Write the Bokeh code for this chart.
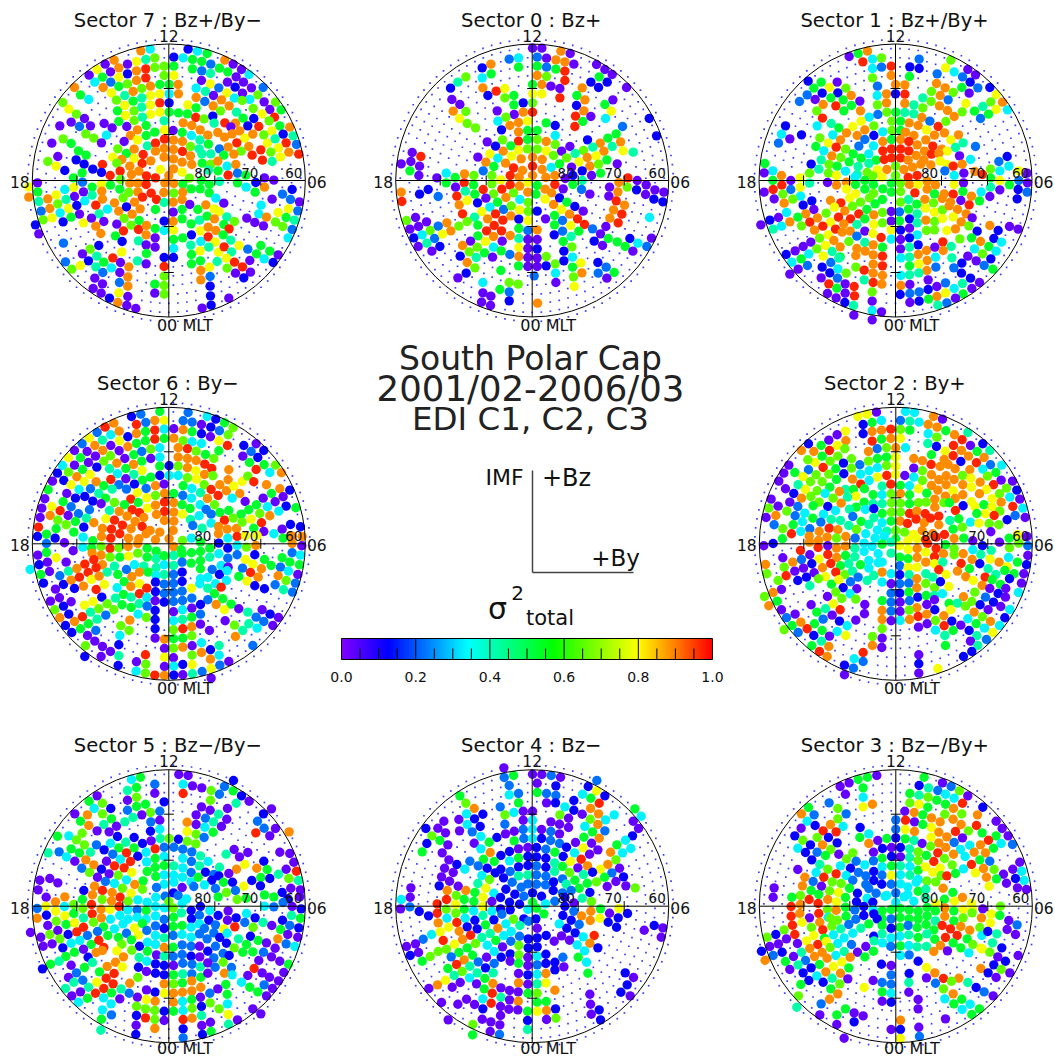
import numpy as np
from bokeh.plotting import figure
from bokeh.models import Range1d, LinearColorMapper, ColumnDataSource
from bokeh.embed import file_html
from bokeh.resources import INLINE
from bokeh.core.properties import value

FONT = "DejaVu Sans"
W, H = 1055, 1059
TITLE_LINES = ["South Polar Cap", "2001/02-2006/03", "EDI C1, C2, C3"]
CBAR_TICKS = [0.0, 0.2, 0.4, 0.6, 0.8, 1.0]
COLOUR_STOPS = [(0.0,(128,0,255)),(0.125,(0,0,255)),(0.34,(0,255,255)),(0.57,(0,255,0)),(0.8,(255,255,0)),(1.0,(255,0,0))]
LEVELS = [0.03,0.12,0.22,0.33,0.42,0.53,0.66,0.79,0.89,0.97]

SECTOR_7 = """421,151,8 449,146,3 563,146,1 591,152,3 620,159,5 520,170,1 548,172,3 576,177,5 604,183,5 631,191,2 408,183,7 436,177,4 463,172,6 341,179,8 673,179,8 698,191,0
314,191,0 381,191,0 491,197,6 520,197,5 576,205,5 604,211,2 657,203,5 682,214,5 723,207,0 290,207,7 355,202,8 330,214,0 408,211,8 436,205,9 463,201,6 266,224,0 306,230,5 381,220,1 491,225,6 520,225,7 630,219,4 707,229,0 746,222,3
283,245,3 331,245,2 355,230,7 408,240,8 436,232,9 381,250,6 355,258,5 478,252,5 506,252,5 450,257,8 424,264,6 222,261,8 240,283,5 265,297,3 308,261,8 333,277,7 373,285,4 398,273,8 533,252,8 603,240,0 629,250,7 681,245,0 729,245,0
506,280,3 534,280,8 478,280,7 450,285,7 424,292,4 398,302,5 348,299,6 587,263,3 615,273,4 655,262,2 704,260,1 753,262,0 788,261,2 639,285,0 679,277,7 726,278,0 772,283,6
187,306,6 205,326,7 228,341,6 252,354,0 212,365,0 237,378,2 270,376,0 311,369,0 335,382,0 178,376,0 379,378,0 351,331,5 401,331,6 424,320,4 450,313,7 478,307,9 506,307,1 373,315,7 562,313,7 587,291,8 613,303,2 663,298,8 702,293,3 748,297,3 725,300,6 791,304,0 825,305,6
506,335,5 478,335,7 450,342,7 426,350,4 401,360,6 355,363,5 375,345,7 534,337,5 561,340,5 587,322,5 638,316,8 660,331,6 686,316,8 708,335,4 758,324,6 808,327,0 842,328,5
491,361,4 548,367,8 586,351,9 611,355,6 637,347,1 673,367,9 705,368,8 728,353,5 760,354,1 785,340,7 822,350,9 806,361,6
518,390,0 574,375,8 599,388,8 641,368,4 691,379,0 718,391,8 742,376,1 775,378,9 838,376,5 868,380,8 437,375,5 411,388,8 492,388,7
390,405,8 411,418,7 437,405,5 463,395,5 545,396,5 573,405,3 622,404,8 652,396,8 672,410,8 695,400,8 733,413,7 757,401,8 790,403,6 814,391,7 848,401,1 878,406,4
154,428,0 188,415,6 212,429,5 256,400,6 280,413,6 318,404,3 303,427,0 371,423,0 492,416,9 519,419,8 546,423,8 598,418,4 624,431,5 709,427,9 801,428,7 824,415,4 857,427,9 888,432,2
234,451,5 352,445,6 378,459,5 401,446,8 441,436,4 465,428,9 491,444,8 519,447,8 570,438,6 596,445,4 657,445,2 683,440,8 722,452,6 745,438,8 781,448,9 834,442,7 865,455,8
172,468,0 227,478,1 257,464,5 337,470,7 364,477,8 401,474,7 428,462,9 465,452,8 491,470,8 519,475,8 546,453,9 570,466,8 604,460,4 631,460,4 670,464,5 700,461,8 755,464,9 811,455,6 895,461,9
142,483,6 167,497,7 193,510,1 251,491,1 277,506,1 306,492,9 349,488,6 388,497,8 425,489,9 451,481,8 519,505,8 545,485,8 574,492,8 605,488,5 631,491,6 652,482,8 680,497,3 706,492,8 786,479,9 815,483,4 840,469,7
219,532,5 245,517,5 303,516,1 329,525,9 359,512,9 393,522,8 415,512,8 438,526,9 465,532,9 480,507,7 505,525,8 545,515,7 567,533,6 624,509,4 653,511,5 683,524,9 711,518,2 736,524,5 792,532,0 820,539,0
111,547,0 246,545,2 275,560,5 303,550,7 330,554,5 360,537,6 388,548,8 412,548,8 437,552,9 493,547,8 520,549,8 547,550,5 602,540,5 627,552,5 657,543,4 711,547,5 737,560,3 766,546,1 792,560,8
85,559,7 112,574,5 142,595,8 167,583,7 193,567,3 220,561,7 249,574,0 275,584,4 304,572,8 358,566,5 385,576,6 412,574,8 452,578,9 490,576,8 520,578,6 547,575,8 572,565,5 599,565,5 626,577,5 646,593,3 764,575,5 875,567,1
85,590,8 115,603,4 222,588,0 253,601,3 286,614,9 306,596,8 342,607,8 368,592,6 402,605,8 426,590,9 468,597,9 491,606,4 518,605,8 545,597,8 670,608,0 846,581,2 870,597,2 815,596,0 897,604,0
122,632,2 148,624,8 172,610,6 197,597,4 204,624,7 229,615,1 237,641,0 179,637,3 296,640,4 321,626,3 355,632,8 378,619,1 419,625,8 465,627,5 518,635,0 545,627,5 568,612,0 592,627,5 616,613,8 641,625,7 656,633,7 782,614,3 864,625,7 892,631,2 833,636,7 775,640,3
128,658,6 155,652,7 188,664,1 212,650,5 249,667,7 273,653,0 310,663,0 371,654,6 395,641,8 416,660,5 349,671,0 491,662,1 518,663,8 545,655,5 572,670,5 597,659,4 620,647,5 642,655,8 679,649,4 702,663,6 739,653,0 763,666,0 798,650,8 825,664,6 857,651,5 882,659,4
105,673,1 286,677,8 369,691,9 392,674,6 414,687,9 438,675,8 464,684,5 491,690,3 519,689,7 573,703,1 599,691,7 623,680,8 646,690,8 670,672,5 686,685,9 789,676,0 847,678,6 875,687,2
115,700,0 301,699,8 345,706,5 437,703,8 519,717,5 547,712,5 601,723,3 623,709,9 644,725,7 668,703,5 691,719,4 863,712,3
189,728,2 365,723,1 414,721,4 464,712,0 437,733,0 464,740,0 295,735,1 571,734,4 654,755,7 716,735,7
269,746,6 246,760,0 289,767,4 364,754,7 519,744,3 599,751,7 625,740,4 671,739,9 693,754,4 742,746,2 768,760,5 781,735,5 808,752,5 833,763,0
195,784,2 264,781,1 310,785,5 337,772,9 360,786,0 411,781,4 438,759,5 491,771,1 519,771,1 573,762,5 600,781,5 650,783,4 678,773,7 702,785,9 748,780,0 791,775,3 818,786,1 726,799,9
214,806,6 240,795,7 286,799,4 333,802,3 385,799,8 437,790,0 491,798,9 573,790,5 627,800,7 601,810,8 680,803,6 750,815,0 705,818,0
307,816,2 358,816,0 491,827,6 382,829,8 283,833,0 601,838,8 629,828,2 730,832,1
306,850,0 278,864,0 357,846,2 382,857,8 463,851,5 491,855,6 629,857,1
302,878,0 327,893,1 355,877,7 382,888,0 463,878,0 491,881,6 630,886,1 685,893,0
352,906,8 379,915,0 406,924,0 632,914,1 605,923,0"""

SECTOR_0 = """516,143,0 544,143,0 601,152,8 629,159,0 530,170,2 558,173,0 586,178,8 613,184,8 640,191,0 446,176,2 474,172,3 391,191,8 474,200,5 530,197,5 558,200,2 586,206,5 613,212,9 708,192,0 733,207,0 365,202,1 392,220,5 365,232,3 316,229,6 292,245,4 270,263,1 530,225,8 558,228,6 613,240,9 716,229,5 755,222,0 691,245,1 740,245,1 516,252,5 544,252,8 571,257,0 598,264,0 665,262,8 714,261,1 798,261,0 367,262,8 407,272,9 433,264,7 382,285,1 516,280,7 544,280,7 433,292,6 460,285,5 598,292,9 649,285,5 673,298,8 757,298,0 274,297,0 298,312,0 460,313,5 488,307,1 516,307,6 648,315,1 733,312,5 410,331,0 316,333,6 278,332,8 461,342,0 488,335,8 516,335,9 670,331,8 752,332,7 297,354,7 436,350,6 645,347,9 691,348,0 866,354,1 320,369,6 412,362,3 474,366,8 501,362,7 735,354,3 557,367,5 584,375,1 667,363,5 345,382,6 448,375,8 423,388,1 474,394,8 501,390,5 530,390,5 643,378,9 786,378,2 584,405,3 888,406,1 767,400,5 380,424,0 426,418,6 474,422,9 501,417,5 530,417,6 557,423,8 584,432,6 681,418,1 742,413,5 405,437,1 451,436,5 719,428,8 780,424,8 755,438,4 697,440,4 628,438,0 603,452,0 155,456,0 181,468,9 352,470,0 388,460,7 428,452,8 474,449,7 501,445,6 530,446,6 557,451,7 730,452,8 669,450,6 644,459,4 788,451,7 818,455,4 151,483,0 122,490,0 177,497,0 412,473,3 453,467,7 482,475,8 516,470,8 545,477,8 579,465,6 618,472,6 680,471,8 707,466,7 739,478,5 376,485,8 435,488,8 400,498,5 148,511,5 516,497,9 545,507,8 572,501,3 597,490,5 655,484,7 688,497,8 714,491,6 770,490,0 175,525,0 368,511,2 459,502,9 486,510,8 516,525,8 633,500,0 665,511,1 693,525,0 720,518,5 229,532,0 257,518,3 284,531,5 312,520,8 340,525,6 394,525,6 449,525,9 421,538,7 476,530,8 556,531,8 583,525,8 614,534,0 637,525,1 775,546,8 802,532,9 257,547,5 285,560,0 311,547,9 339,553,5 394,550,6 449,553,9 502,546,7 530,555,5 583,552,9 637,552,5 665,540,4 830,540,0 857,553,0 747,560,0 800,560,6
122,575,8 203,567,1 177,581,1 233,588,2 289,587,9 314,572,4 343,581,5 368,567,9 399,580,6 424,566,9 477,557,8 459,577,6 502,575,8 526,581,5 554,566,8 573,577,8 608,565,0 663,567,2 772,574,8 828,568,1 883,568,0 910,575,0 855,582,0 124,603,9 296,613,8 320,600,7 351,607,1 376,593,0 411,605,5 436,591,8 478,597,3 503,606,6 554,596,7 579,612,8 597,592,1 619,605,5 643,618,1 688,581,0 745,587,0 767,601,9 880,596,1 907,604,1
306,640,9 364,633,7 388,620,3 429,627,2 452,616,6 477,628,7 503,633,6 530,632,1 555,655,0 582,645,5 603,627,7 627,641,8 668,632,0 759,628,8 792,614,8 405,640,9 342,650,4 138,660,6 165,651,0 198,664,0 259,667,8 320,663,6 381,655,8 427,659,9 451,646,8 475,656,1 502,660,7 582,673,5 606,660,2 651,655,9 672,672,9 748,653,8 784,641,9 867,651,3 773,667,9
148,686,0 174,678,0 233,677,2 209,690,6 271,691,8 295,677,6 352,674,5 378,691,9 401,675,9 423,691,9 475,684,5 502,690,2 530,688,8 630,675,7 606,692,2 581,703,1 655,692,5 696,685,2 736,678,0 720,700,0 160,712,1 185,703,3 222,714,2 246,701,7 352,706,5 399,708,8 425,722,0 449,705,8 475,714,4 502,717,0 530,717,0 608,723,5 632,708,4 701,722,1 743,714,5 770,724,5 808,714,1 873,713,0 199,728,4 173,738,0 238,738,1 330,722,0 375,723,7 306,735,8 350,740,6 399,740,3 422,751,5 448,762,2 475,741,7 502,744,0 530,745,1 634,739,6 726,735,0 794,738,5 832,728,3 859,738,2 214,752,0 326,754,6 372,757,5 299,767,1 347,771,4 396,770,0 475,768,8 502,771,0 530,772,0 557,768,6 610,752,1 636,770,3 817,752,0
320,786,8 343,802,6 474,796,5 502,798,0 530,798,0 557,796,1 584,790,6 610,781,1 661,787,7 712,786,1 737,800,2 421,810,5 636,800,5 317,818,1 292,832,0 521,826,2 585,818,3 664,817,8 713,818,2 761,816,5 639,829,6 739,833,0 367,846,3 446,846,6 473,851,6 586,846,0 641,858,7 418,867,5 446,874,2 367,877,0 391,887,0 446,901,1 363,905,0 390,915,0 531,908,8"""

SECTOR_1 = """371,168,0 398,159,5 426,152,8 412,184,9 441,176,3 468,172,6 441,204,3 468,200,2 497,197,9 497,225,8 441,232,6 581,176,2 553,199,1 581,204,1 676,179,6 660,202,7 635,220,2 686,214,3 727,207,0 711,229,2 750,223,0 552,228,5 248,242,1 287,245,5 335,245,0 265,263,5 312,261,7 361,263,6 245,283,2 222,303,2 290,278,1 337,277,1 269,297,0 316,292,5 377,285,8 353,298,5 403,302,0 293,312,8 331,316,9 378,315,5 355,331,5 274,331,6 456,257,2 510,252,8 538,253,8 455,285,3 483,280,8 510,280,1 538,281,9 483,307,8 456,313,6 538,309,8 565,313,4 592,292,4 618,273,6 633,249,8 659,262,8 644,285,8 683,276,6 709,261,5 734,245,1 757,262,2 793,261,1 731,278,0 812,282,7 796,304,6 831,305,8 617,303,6 668,298,2 642,316,8 721,309,7 772,318,4 812,327,7 846,328,3 592,322,6 666,330,8 405,331,8 484,335,6 511,335,5 538,336,4 565,340,4 710,334,6 747,332,5 789,341,5 765,354,2 291,353,9 431,350,3 457,342,2 407,362,7 317,369,4 499,362,6 525,362,5 551,367,8 589,351,8 613,362,2 638,378,9 661,363,6 686,348,8 275,376,3 180,376,1 340,382,5 382,378,7 418,388,8 472,394,3 445,376,6 499,390,6 525,390,5 578,375,8 603,388,7 168,401,3 228,403,1 193,415,0 283,412,6 322,403,3 363,397,8 395,405,8 445,405,1 540,395,8 565,405,8 627,404,8 657,397,8 699,403,8 159,428,2 308,428,7 345,418,8 418,417,2 472,423,8 498,417,5 525,417,8 550,423,9 575,433,8 601,418,8 676,418,7 713,427,4 271,438,5 332,440,9 360,446,6 400,437,2 444,436,3 498,445,9 525,445,9 550,451,9 622,437,9 649,446,8 690,441,4 750,438,2 295,451,3 383,460,5 472,451,9 597,452,8 665,452,7 319,466,8 346,471,6 407,473,5 430,460,3 498,472,9 525,472,9 572,465,8 618,461,9 640,459,8 702,466,0 287,478,4 257,491,1 371,484,5 452,479,5 476,477,9 548,479,8 595,478,8 644,482,7 735,477,3 845,468,1 820,483,2 118,489,5 311,492,6 335,497,5 398,498,4 430,489,4 510,497,6 535,507,8 561,500,8 586,491,8 616,493,8 665,492,7 710,491,8 683,497,9 142,511,3 116,517,0 280,506,4 252,518,6 309,518,6 360,512,3 395,522,4 425,516,6 456,508,7 484,507,8 510,525,6 548,531,9 575,525,9 658,511,2 715,518,0 748,513,8 771,522,9 795,506,6 823,511,3 850,497,3 168,525,8 196,540,0 224,532,7 388,530,3 333,525,7 442,526,6 470,530,7 686,525,3 795,532,5 905,518,0 880,511,7 142,540,5 252,548,4 169,554,9 196,567,2 224,561,7 306,546,0 333,554,8 363,545,8 390,552,5 418,540,5 444,552,5 498,548,5 525,548,6 552,552,8 578,552,7 605,542,8 630,553,8 686,552,7 714,547,0 823,540,7 852,553,5 880,540,2 906,547,0
116,575,0 143,567,9 172,581,6 146,595,0 225,587,3 202,596,6 363,566,7 390,580,7 418,566,5 444,579,6 472,565,5 498,575,5 525,573,6 568,577,9 605,566,8 627,580,5 656,580,8 683,581,9 712,573,5 738,587,8 767,574,3 795,560,4 823,568,0 878,567,1 905,575,2 793,588,0 875,595,1 176,608,8 233,614,1 259,601,1 315,600,8 346,607,9 373,592,7 405,605,6 432,592,6
265,627,0 183,636,3 241,640,8 302,638,6 327,620,7 358,631,8 381,617,6 400,640,9 424,627,5 449,610,5 471,597,5 497,633,0 525,605,6 549,597,4 574,611,5 598,597,8 624,607,6 650,594,8 675,605,8 706,600,0 731,613,9 762,601,5
133,659,1 159,651,0 217,650,5 106,673,0 143,686,4 168,677,3 193,664,8 228,676,6 253,665,9 276,652,8 315,665,7 339,650,9 375,655,9 418,655,5 445,643,8 471,636,6 497,662,0 522,634,2 549,626,5 575,640,4 600,623,7 627,635,7 651,628,6 671,616,8 696,627,8 722,640,8 740,652,0
267,689,8 292,677,9 330,686,9 355,670,8 394,672,4 418,692,0 445,672,7 471,667,6 497,688,7 522,661,5 552,655,1 575,667,4 601,659,8 627,663,6 651,654,7 683,649,7 707,664,8 730,676,6 793,675,8 852,678,0 878,686,0 818,690,1
282,713,6 308,703,7 350,695,8 374,692,8 394,707,2 442,699,7 467,711,9 497,716,3 525,689,1 552,683,0 575,703,3 603,690,6 627,688,6 664,690,7 690,685,8 755,692,1 805,714,1
256,725,0 233,738,0 274,745,6 300,735,7 325,720,8 344,739,8 370,723,6 394,744,8 418,726,4 443,733,8 471,740,5 525,717,0 552,712,1 578,733,1 603,750,8 628,740,0 652,724,9 677,738,4 703,715,6 738,712,5 765,723,8 790,738,5 828,725,3
209,751,0 182,762,1 250,760,3 293,767,7 320,753,4 344,769,5 391,765,8 419,752,8 443,763,8 471,767,9 525,745,0 552,740,4 578,762,8 605,780,8 630,770,3 653,750,8 679,772,4 727,767,0 747,745,3 771,760,6 812,752,3 752,781,0 796,775,1
199,785,3 227,775,5 246,795,2 290,800,1 316,786,2 340,773,4 391,800,6 416,809,9 443,791,8 471,796,9 526,772,3 552,770,4 552,796,5 580,790,7 604,810,8 631,800,2 685,802,2 709,788,1 776,795,2 802,806,5
218,806,0 193,821,0 313,817,1 337,805,3 362,818,6 443,818,8 471,825,8 526,825,3 552,823,4 580,817,4 708,818,1 287,832,0 336,833,2 416,838,4 443,846,9 469,851,8 359,850,0 386,858,9 310,850,9 334,863,5 526,855,8 553,852,0 608,838,0 660,847,2 634,858,0 711,849,4 735,833,1 762,846,0
306,879,0 332,892,0 359,878,0 387,886,9 440,874,6 524,882,1 553,879,2 581,874,2 608,867,1 634,888,8 660,877,7 686,864,3 739,864,0 713,880,5 358,906,1 384,915,4 440,902,0 553,906,0 581,902,1 609,896,5 637,914,4 664,907,2 690,893,0 440,930,3 468,934,0 385,944,0 440,958,0"""

SECTOR_6 = """478,138,5 563,141,2 620,153,3 646,161,1 421,146,2 393,153,1 548,166,2 575,170,2 603,177,0 631,185,1 672,172,5 698,187,6 463,165,8 491,165,7 436,171,2 408,177,9 340,173,8 314,185,9 520,190,0 548,193,8 575,199,5 603,205,1 657,196,2 683,208,6 290,201,2 331,208,3 356,197,8 408,204,8 435,198,5 463,194,9 491,191,3 266,218,7 382,214,1 520,218,8 630,214,0 655,226,7 681,240,9 306,224,4 245,235,2 357,226,7 408,234,5 435,226,5 463,221,9 491,219,5 283,240,8 331,240,0 382,244,8 548,226,6 575,229,3 603,234,3 730,240,1 767,235,0 222,255,0 260,258,0 307,255,8 356,256,0 400,268,5 424,258,2 451,251,6 478,247,3 533,247,8 561,250,9 587,257,6 615,267,5 655,256,5 752,258,2 790,255,1 204,277,7 240,277,5 285,272,0 330,271,6 373,279,0 424,287,5 451,279,0 478,275,3 533,275,8 561,279,8 587,285,8 640,279,6 727,272,0 772,276,1 186,300,3 222,299,0 264,291,0 310,287,6 349,293,8 399,297,8 478,302,5 506,301,1 533,302,6 561,307,8 613,296,9 634,309,9 747,291,5 791,298,5 825,299,6 171,323,1 204,320,6 246,312,5 289,305,1 327,310,4 376,309,5 425,315,7 451,335,5 478,330,1 506,330,3 533,330,3 586,316,7 612,327,8 685,313,8 767,312,9 808,321,3 843,322,8 156,347,0 190,345,1 229,334,8 269,327,7 351,325,3 400,327,4 426,344,5 376,340,0 561,337,6 588,341,7 637,331,6 658,358,8 683,343,8 725,348,7 742,332,6 760,349,9 212,358,7 251,349,7 287,349,8 331,342,9 355,358,2 402,356,1 465,361,8 491,356,0 236,372,3 143,373,5 270,370,2 310,361,5 335,371,4 378,371,2 437,369,2 548,361,5 574,369,3 611,358,6 632,372,9 678,376,8 700,362,7 798,358,8 838,370,8 868,374,1 199,384,0 295,384,4 225,398,1 253,393,1 411,382,7 465,390,6 492,384,8 520,384,5 547,390,2 573,398,3 600,382,4 653,390,9 718,384,8 813,384,5 133,400,0 277,407,1 315,398,5 342,411,6 391,401,9 439,397,7 413,411,5 492,410,9 520,412,8 621,399,8 695,398,3 788,398,0 848,394,0 824,409,0 154,423,7 124,428,0 188,409,5 212,424,2 302,415,0 372,418,5 395,433,9 441,428,7 465,419,8 492,438,9 520,440,8 545,418,5 569,429,5 599,418,3 642,418,6 734,408,0 768,418,5 801,424,3 857,422,1 886,427,5 149,450,8 119,456,0 179,436,9 203,450,0 234,445,2 267,433,2 327,435,4 356,438,8 380,452,8 417,442,9 468,447,8 617,432,2 658,441,5 685,435,5 745,433,5 722,446,5 778,444,6 808,451,8 835,437,3 172,464,6 225,468,5 258,458,4 316,460,7 342,464,9 404,468,8 430,456,8 492,465,8 520,467,8 546,446,7 570,462,4 596,451,3 632,446,2 672,464,9 698,458,6 752,461,7 783,472,9 197,478,6 114,485,9 220,500,5 250,485,1 280,472,8 306,489,8 333,491,9 366,479,9 392,490,8 425,483,9 449,495,8 478,500,8 518,495,8 577,480,2 605,488,4 632,473,3 654,483,8 680,491,8 708,489,8 725,470,6 760,488,5 790,498,0 845,491,0 870,477,1 900,484,1 138,506,5 111,513,1 167,490,5 192,532,0 164,518,1 248,515,3 277,526,5 303,513,8 331,518,9 358,505,9 384,518,8 415,520,8 437,505,8 465,523,8 506,520,8 546,525,6 573,518,3 600,530,5 654,505,8 682,518,3 710,513,9 735,510,7 770,510,7 820,505,3 848,518,5 875,512,8 905,513,8 138,534,2 247,545,3 273,548,5 302,543,6 329,549,9 355,547,6 383,543,8 412,534,8 440,548,5 467,557,5 520,544,8 542,553,5 600,558,5 628,548,5 655,533,1 682,548,1 710,540,3 738,545,6 766,540,8 875,534,8 904,541,0
112,569,0 138,561,5 218,556,0 141,590,0 167,577,7 275,563,8 302,569,8 329,575,6 358,575,5 384,572,7 412,563,6 440,575,5 467,580,4 491,571,5 519,570,4 545,565,5 573,562,5 600,586,5 628,575,4 655,565,3 682,578,2 710,568,2 735,582,7 763,568,1 792,582,5 845,577,5 875,562,2 900,569,3 197,590,0 116,598,1 89,612,3 147,618,0 121,627,5 253,596,9 280,583,9 306,598,8 342,602,4 378,612,2 402,598,3 430,602,4 467,607,4 491,598,3 519,600,4 545,590,2 572,593,5 600,610,5 635,612,2 662,600,3 683,605,0 726,608,2 757,596,7 783,610,8 812,600,5 840,605,2 868,590,5 897,598,5 178,631,2 204,617,4 229,609,8 263,621,9 287,607,9 320,620,4 352,627,5 394,634,8 417,620,8 443,620,5 467,630,3 491,627,4 519,627,2 545,620,1 600,640,3 622,636,3 657,627,1 680,616,3 715,633,5 750,621,9 773,635,8 833,631,8 864,617,3 892,627,0 129,653,1 165,671,0 189,657,1 212,644,8 237,635,9 273,642,7 296,632,8 350,667,3 371,649,5 391,663,8 417,655,7 439,668,9 465,650,1 491,656,2 519,654,2 545,648,1 573,668,7 598,655,3 622,668,4 645,655,3 678,645,3 740,647,7 763,661,1 792,670,1 824,658,2 857,645,6 885,653,2 222,669,1 249,662,8 287,672,9 312,657,7 369,687,5 392,695,4 417,685,9 439,696,3 465,679,1 491,684,2 519,681,2 545,677,2 642,685,5 662,665,9 849,673,4 876,680,2 177,697,0 150,707,0 304,695,1 345,698,4 416,715,4 440,722,2 464,706,0 491,710,1 519,708,2 546,705,2 574,698,2 622,703,2 667,700,5 189,722,1 212,709,0 252,719,7 278,708,7 320,715,6 365,718,5 392,726,5 600,717,1 574,728,0 647,717,8 692,716,5 163,733,6 205,746,1 270,740,4 295,730,6 340,733,6 413,746,3 464,735,1 519,739,0 546,733,3 672,733,7 715,730,0 742,740,4 785,733,0 178,757,8 246,754,9 290,761,4 316,749,2 388,764,8 438,756,6 464,762,1 574,755,5 600,746,2 809,746,1 767,755,2 834,756,0 195,780,1 222,768,8 264,775,5 361,781,6 519,766,3 546,762,4 574,784,8 600,776,0 674,766,0 745,775,4 790,768,2 817,780,0 240,790,5 214,801,1 286,795,2 386,795,6 464,790,1 519,793,6 547,790,9 627,795,0 702,779,6 770,788,3 727,795,4 261,810,0 358,810,3 464,818,0 492,821,8 519,820,5 547,818,5 574,811,6 705,813,8 283,827,0 255,841,6 306,843,0 355,838,1 492,849,0 519,848,6 547,845,8 575,841,0 603,832,3 656,840,4 757,840,2 330,858,0 435,868,9 302,873,0 253,873,1 355,871,4 492,875,7 519,877,0 575,869,6 603,861,8 630,853,1 656,869,3 408,889,0 436,896,6 353,900,1 492,903,0 520,902,3 547,897,1 575,897,7 630,881,8 658,899,2 685,888,0 407,917,3 435,923,6 463,929,9 492,930,8 520,929,1 547,928,0 576,925,4 605,918,2 632,909,7 632,938,0"""

SECTOR_2 = """453,140,0 425,146,7 397,153,7 540,138,3 567,141,3 624,153,8 651,161,0 468,165,3 440,171,5 413,177,1 525,165,2 553,167,4 581,170,3 608,177,8 635,185,8 661,196,5 360,197,7 496,191,9 468,194,8 440,198,8 413,205,1 525,192,6 553,194,5 687,208,8 727,201,4 335,208,0 310,224,0 361,226,8 440,227,9 468,221,5 496,219,8 525,219,7 608,205,3 634,215,6 710,223,9 249,235,1 287,240,5 335,240,7 455,250,2 483,247,6 511,247,8 540,247,3 607,234,4 633,243,1 684,240,9 659,257,7 735,240,0 772,235,1 793,255,4 228,255,8 265,258,8 312,255,9 358,250,6 429,258,8 456,279,5 483,275,5 290,272,5 337,272,6 618,268,5 708,255,8 755,258,5 683,271,9 378,280,6 429,287,6 511,275,7 565,279,8 591,286,8 617,297,9 656,282,8 706,288,1 729,272,8 776,276,8 269,291,7 190,299,0 247,283,6 314,287,6 354,293,1 403,298,2 456,307,3 483,300,6 511,302,7 565,308,0 644,303,8 668,297,8 689,310,8 753,292,9 795,298,2 829,299,3 175,323,0 208,321,5 249,313,2 293,306,9 331,310,5 378,308,6 405,326,3 431,316,3 484,330,9 511,327,7 538,330,0 565,335,3 591,316,6 618,328,8 662,331,8 733,313,8 711,330,6 772,311,3 811,321,5 160,347,0 233,334,7 355,325,1 272,328,6 310,326,6 381,341,8 456,335,7 591,345,6 640,343,8 686,342,8 736,338,7 786,332,6 827,344,0 861,347,0 218,358,4 255,349,6 290,349,6 333,342,5 406,356,9 431,345,3 470,362,4 496,356,9 525,360,5 552,361,3 618,360,8 662,358,8 712,358,8 764,350,8 804,358,9 180,370,0 240,372,7 313,365,5 360,372,4 384,372,5 417,370,5 579,370,7 637,374,8 683,376,7 738,365,7 783,372,7 843,368,6 874,374,1 205,384,1 275,376,6 299,384,3 342,378,8 391,392,7 443,388,5 470,388,3 497,385,6 525,385,8 552,388,5 604,383,5 660,392,8 712,388,8 762,385,8 822,385,6 137,401,0 228,398,8 256,393,6 323,398,6 366,395,4 416,410,5 498,412,6 525,413,6 552,415,5 579,412,6 628,401,8 689,399,8 738,409,7 800,400,7 853,395,3 883,401,0 193,410,0 281,410,6 347,413,8 443,415,4 470,415,4 602,410,6 655,412,6 775,418,5 827,410,8 130,428,6 158,422,0 217,423,2 263,421,5 307,423,1 392,425,5 420,432,3 445,430,1 498,440,6 525,440,6 552,444,9 628,425,8 672,412,5 713,421,1 800,424,7 862,423,9 892,428,3 184,437,6 238,443,3 330,436,3 372,431,4 470,444,5 497,467,5 524,467,8 574,437,8 599,445,9 690,435,9 748,423,7 780,445,7 823,437,6 122,456,0 151,450,8 209,451,2 262,458,5 294,446,3 345,465,4 382,453,2 445,457,4 470,472,3 546,474,9 572,461,9 596,472,8 615,458,9 640,452,9 673,465,4 700,460,5 754,444,5 735,470,3 806,450,9 845,463,1 869,450,2 899,456,0 172,490,6 146,478,2 203,478,5 231,469,3 286,470,2 317,462,4 370,480,4 407,468,5 430,477,4 456,494,3 484,497,4 511,495,6 640,478,8 683,491,5 711,485,6 760,473,7 791,474,6 820,478,6 226,498,3 198,505,9 171,520,5 253,490,2 281,498,8 311,488,9 337,493,8 393,492,6 421,505,3 511,520,5 537,500,6 564,507,7 590,495,8 622,505,8 657,507,9 686,519,8 796,499,0 251,512,8 279,525,8 305,515,8 333,518,6 361,513,8 389,518,2 449,518,3 476,513,3 575,520,7 600,522,9 632,515,9 715,518,5 742,526,0 822,530,0 851,518,5 876,508,7 905,513,0 143,534,1 115,541,0 252,530,8 278,546,9 307,541,0 333,548,8 360,542,8 388,548,4 416,533,3 440,543,3 470,536,5 497,530,4 522,541,7 547,526,7 548,552,7 575,549,8 606,534,9 632,549,9 660,538,5 686,550,6 742,553,3 771,541,1 797,555,4 852,547,6 880,533,6 907,541,2
225,555,9 253,568,0 172,577,0 280,581,7 307,567,9 334,576,8 360,570,5 388,574,4 416,558,3 430,585,3 458,565,3 470,590,3 497,563,4 523,575,5 548,580,5 575,576,8 601,560,7 627,574,9 654,565,8 686,568,6 713,565,8 740,582,8 766,567,4 794,581,7 821,590,8 849,576,3 876,590,5 907,570,0 120,597,8 202,590,8 228,582,2 259,595,1 291,607,8 316,594,9 345,601,5 370,594,4 405,598,5 430,608,3 458,592,3 523,601,2 548,606,7 574,605,7 601,590,8 627,595,7 652,590,4 707,594,9 732,610,5 763,595,1 788,610,4 845,604,7 903,598,1 124,625,6 176,605,6 208,617,0 234,608,0 266,622,0 182,631,9 300,634,7 331,620,9 358,627,6 381,617,4 398,635,2 425,645,4 445,630,4 470,620,8 497,625,3 523,628,1 551,628,4 574,640,8 601,625,4 622,635,4 640,613,9 662,627,7 696,617,8 721,634,8 779,635,9 811,627,4 838,615,5 866,625,5 895,625,0 158,645,6 217,645,1 243,635,1 279,640,6 318,656,5 340,643,7 375,649,2 470,650,3 497,655,0 523,655,2 550,653,2 574,667,8 601,654,6 627,667,6 645,649,1 670,663,7 743,645,7 770,660,8 800,643,5 825,657,5 852,640,1 888,653,0 168,672,0 253,661,4 353,667,1 331,680,6 394,670,0 497,683,2 523,683,1 550,680,5 577,695,1 602,690,5 627,690,4 651,685,3 714,694,8 748,680,6 793,669,0 818,684,1 841,669,0 879,681,3 143,681,8 117,693,6 306,693,0 374,685,3 349,699,6 155,707,5 130,721,8 323,715,7 391,701,6 418,717,0 470,706,5 497,710,2 524,710,0 552,706,2 574,727,8 604,717,0 627,703,0 671,714,5 696,713,4 739,708,6 764,718,1 780,695,2 804,710,1 840,695,0 168,733,0 257,718,0 300,730,4 344,733,9 417,745,0 470,735,8 497,737,2 524,738,0 551,734,6 578,753,9 604,746,8 628,733,1 676,733,7 720,722,6 746,740,8 788,733,0 826,723,0 853,732,3 183,757,2 209,746,0 274,740,5 320,749,0 391,764,0 470,762,8 497,766,0 524,765,3 552,762,8 579,785,0 605,775,0 630,765,6 655,751,8 679,767,1 706,779,0 727,760,3 771,754,6 838,757,1 200,780,5 226,770,8 267,775,5 293,761,2 342,767,1 365,781,3 335,798,3 245,790,9 176,793,6 218,801,2 290,795,5 470,790,6 630,794,3 656,781,9 683,795,5 731,795,1 752,775,5 795,768,8 822,780,3 777,788,3 265,810,1 312,812,0 361,810,7 441,813,6 470,818,0 658,810,4 754,811,4 802,801,7 288,827,4 735,827,0 783,822,2 259,841,5 310,843,8 441,840,8 469,846,0 660,840,5 757,840,4 739,858,1 282,858,9 413,861,9 580,868,0 714,873,1 305,873,8 386,880,3 413,888,2 580,895,1 357,899,1 384,908,2 580,923,0 637,909,7 357,928,0"""

SECTOR_5 = """535,147,0 563,150,0 420,155,5 393,162,3 463,176,2 548,176,3 576,181,0 604,187,0 699,165,1 672,183,2 632,195,6 408,186,5 381,195,4 463,203,0 548,204,9 657,206,2 698,196,5 723,211,1 746,227,0 290,211,0 408,215,6 381,224,0 491,229,1 630,224,6 707,233,4 266,227,5 306,233,6 435,236,5 331,249,1 281,249,3 408,243,5 381,254,2 478,257,2 450,261,6 424,268,0 603,244,0 629,254,0 681,249,0 813,250,0 789,265,1 223,265,0 261,268,8 306,265,6 333,280,5 398,276,4 373,289,4 587,268,0 654,266,4 615,278,2 679,281,0 771,287,2 240,287,5 265,300,8 310,297,4 348,302,0 451,289,2 478,284,0 560,290,8 587,297,0 639,289,4 613,305,3 663,303,0 791,308,2 825,309,0 290,316,0 205,331,3 245,323,6 326,319,0 450,317,1 478,311,3 560,318,7 587,326,6 638,320,5 766,322,9 866,319,8 808,331,0 171,332,5 228,343,6 351,333,1 401,336,1 479,339,4 506,339,6 534,341,1 560,347,6 611,336,2 252,358,6 212,370,5 288,358,2 330,353,3 376,350,4 426,354,1 452,346,0 491,365,2 520,365,2 586,355,6 355,367,5 401,367,5 143,382,4 176,379,2 237,382,5 270,380,4 311,373,1 337,386,2 378,382,9 412,392,1 464,370,9 437,380,3 547,371,2 574,379,2 701,372,0 742,381,0 838,380,0 868,384,0 198,394,3 223,407,0 256,403,8 280,418,8 318,407,0 360,401,3 390,408,9 438,409,3 464,399,5 491,393,3 520,421,4 547,398,3 600,391,4 677,386,4 717,394,0 790,407,1 880,410,0 244,428,2 342,421,9 303,431,1 371,427,9 464,426,5 491,420,5 573,408,2 623,408,3 733,417,7 708,431,8 769,428,8 800,432,5 267,441,6 326,445,0 353,449,6 394,441,7 440,438,5 466,453,5 491,448,3 520,449,3 547,427,3 572,441,2 597,421,4 615,440,1 657,425,4 640,447,2 685,444,0 857,431,0 834,446,4 888,437,9 118,464,0 148,459,0 172,472,0 291,455,0 315,468,2 342,474,3 378,463,3 403,477,8 428,466,5 491,476,3 520,470,3 546,455,3 572,469,3 593,455,5 634,464,1 655,451,1 669,470,5 696,470,1 730,482,7 754,465,1 781,456,5 808,459,1 865,459,6 894,465,4 282,482,8 250,495,1 306,495,9 335,501,8 366,488,6 392,503,7 426,491,6 468,486,2 519,502,1 545,486,0 580,483,2 612,478,3 645,489,2 678,501,6 705,495,2 780,481,1 113,493,0 845,501,1 871,488,0 900,493,0 137,515,0 165,529,8 193,514,8 276,508,8 305,522,6 333,526,8 359,515,9 383,527,6 412,523,3 440,530,3 466,515,3 494,512,2 533,510,2 558,520,3 653,514,5 710,522,6 737,518,5 792,508,5 820,514,5 862,520,1 898,514,0 246,522,5 220,537,6 136,542,7 110,549,2 192,543,3 247,549,6 273,537,9 302,551,8 329,552,7 356,543,9 382,553,3 410,553,2 437,555,5 465,543,3 492,547,3 505,528,6 518,547,6 545,534,3 572,555,1 600,543,1 628,555,3 683,556,0 792,542,3 820,544,2 848,531,2 875,543,0 902,550,1
165,557,7 193,571,7 220,564,5 138,569,1 275,565,9 303,577,8 249,577,4 330,581,3 358,570,3 383,581,3 410,575,3 437,581,3 465,571,3 491,582,2 519,575,5 543,562,4 573,580,1 597,569,2 625,584,1 653,570,1 681,584,0 707,577,1 738,564,3 764,577,1 846,584,1 873,570,4 900,578,5 110,578,8 142,600,0 167,587,6 197,597,5 222,592,7 249,605,9 279,590,6 309,604,5 342,610,3 368,595,3 402,607,7 426,594,5 465,601,2 491,609,1 518,603,5 545,600,5 572,605,3 597,595,3 612,609,2 645,598,2 670,610,7 703,604,9 733,591,2 758,605,6 788,591,4 814,600,0 840,612,5 868,600,2 895,607,1 90,621,0 121,635,0 148,627,6 172,615,0 178,640,6 203,627,1 229,619,9 261,630,2 291,618,2 322,630,5 354,636,5 378,623,2 414,628,7 439,615,2 465,630,3 491,637,4 518,630,2 545,627,3 572,635,3 597,625,2 620,640,2 640,622,2 658,636,1 680,623,3 714,640,4 750,632,1 832,640,8 862,627,0 892,635,0 128,662,0 155,655,0 187,667,1 212,653,3 238,645,3 272,657,5 295,644,9 310,666,9 364,656,6 393,643,5 417,662,1 441,650,3 465,657,3 491,666,8 518,665,5 545,658,2 572,662,2 597,662,0 622,677,1 645,662,2 678,653,1 701,667,6 738,657,5 773,645,5 798,652,0 824,668,0 857,655,2 883,663,3 249,671,0 349,676,7 394,674,6 441,677,5 468,688,0 491,692,4 518,693,2 545,687,2 572,692,1 598,694,0 640,697,2 668,684,2 686,690,1 727,680,5 757,679,5 789,680,2 813,694,0 196,693,5 222,680,5 263,695,1 287,681,8 306,675,8 369,694,8 345,710,8 416,696,4 439,707,3 465,715,1 491,720,1 519,720,0 547,713,2 575,716,2 600,724,4 622,712,0 644,725,2 668,710,6 693,726,2 775,705,0 838,707,0 176,707,4 150,716,5 126,730,1 212,719,0 276,711,4 252,726,5 320,723,8 297,739,5 366,724,7 414,725,1 438,738,0 465,743,1 491,748,1 519,748,5 547,745,4 574,745,2 601,755,5 622,743,0 672,743,8 695,748,3 761,729,9 785,742,0 742,750,0 807,755,0 850,741,0 864,716,5 228,742,2 204,756,0 341,744,9 317,758,9 220,770,4 289,770,7 264,785,4 247,764,2 338,775,9 388,773,8 412,756,6 491,775,8 519,775,6 546,772,5 574,766,8 601,785,8 676,777,5 723,770,3 748,785,5 791,778,2 834,766,0 195,789,4 240,799,0 214,811,0 310,789,9 333,802,5 362,790,4 386,803,2 438,793,0 464,800,1 491,803,7 519,803,8 546,800,8 574,796,8 628,803,2 652,790,0 772,799,5 816,789,0 285,803,9 309,817,3 358,820,0 600,815,0 680,806,5 798,811,0 234,830,3 261,818,5 332,835,3 411,815,0 437,822,7 464,827,8 519,830,8 546,828,3 574,822,5 629,832,6 681,835,3 306,853,3 333,868,2 408,842,6 435,850,6 463,855,6 491,857,1 519,857,5 548,855,3 575,848,6 603,843,1 656,850,6 757,850,0 408,870,1 435,877,9 463,882,6 491,885,0 548,882,9 575,878,8 603,870,4 683,867,7 781,865,0 303,881,5 407,899,0 604,900,0 630,890,0 711,883,0 684,896,4 301,914,4 463,909,8 548,910,1 606,927,1 632,918,5 406,927,1 548,937,2"""

SECTOR_4 = """430,127,0 459,150,5 431,156,2 516,146,0 544,147,0 572,150,2 600,155,0 709,165,2 446,180,2 530,173,0 586,181,1 683,183,1 708,196,7 446,208,3 474,204,2 530,201,5 558,204,2 586,210,2 666,206,3 691,218,5 733,211,1 298,211,5 316,233,6 474,232,5 558,232,0 613,244,3 640,225,1 716,233,9 341,249,8 419,244,2 488,257,0 516,257,0 460,261,3 690,249,8 665,266,0 640,254,1 585,232,1 823,250,5 318,265,3 367,266,1 433,268,6 598,268,6 624,278,0 714,265,8 761,268,3 842,272,3 295,282,0 342,280,1 320,297,3 488,284,0 516,284,3 571,289,0 597,296,0 689,281,6 735,283,3 818,287,0 250,287,0 359,303,1 433,296,2 516,311,3 624,306,0 673,303,3 712,297,8 834,309,0 196,309,1 232,308,0 255,322,0 297,316,0 335,319,2 488,312,2 461,317,0 543,312,0 571,318,2 597,325,0 696,319,5 733,316,2 214,331,6 361,333,3 409,336,1 435,325,0 490,339,2 516,339,3 543,339,1 570,345,2 670,335,5 716,338,8 816,331,1 238,345,5 199,354,1 262,358,0 341,353,0 386,350,5 461,346,5 645,351,0 693,353,0 795,344,3 769,358,5 474,370,0 502,366,0 528,366,1 556,371,2 597,354,2 618,365,1 668,367,7 712,373,0 185,379,5 245,382,0 361,370,3 389,381,8 421,390,1 447,378,1 583,380,5 642,382,3 687,386,0 750,380,8 786,382,3 811,369,3 265,403,0 328,407,2 369,401,5 401,408,5 447,406,3 474,397,5 502,393,1 528,394,1 556,398,1 608,393,1 630,408,7 662,401,9 742,417,8 766,403,6 252,428,0 289,417,1 353,421,2 380,428,1 421,431,1 474,424,1 502,420,1 528,421,2 556,425,1 582,412,4 681,421,8 777,428,0 278,441,0 313,431,3 404,442,1 449,438,2 474,451,4 502,448,4 528,448,2 556,452,2 582,438,4 606,423,5 627,441,6 652,427,0 719,431,7 754,442,2 243,454,0 364,450,3 429,457,1 502,475,2 528,476,2 555,478,2 579,469,1 606,460,2 643,464,5 669,447,4 696,440,1 732,455,5 789,454,1 267,467,0 293,482,0 352,474,4 387,462,6 455,470,2 482,485,2 617,476,4 680,473,5 708,469,6 766,468,0 151,487,0 236,481,1 376,488,7 436,491,1 656,488,5 632,495,2 796,481,0 740,483,0 824,487,6 260,495,8 287,510,6 316,495,8 343,501,5 400,503,3 463,506,1 490,512,2 516,502,1 543,512,1 578,495,1 606,502,2 688,501,1 149,515,0 122,522,3 368,515,7 258,522,9 311,522,5 394,528,0 447,530,1 420,516,1 516,530,5 477,536,1 555,535,3 583,527,2 613,516,1 640,532,0 665,518,4 693,528,6 230,535,9 340,528,5 148,544,2 120,550,0 176,558,1 257,551,6 285,537,7 311,551,5 339,556,3 367,543,7 394,557,3 420,550,1 449,553,1 502,552,3 528,548,5 613,542,1 640,557,2 691,557,8 720,550,5 775,549,7
230,563,9 204,571,1 259,578,3 286,563,6 314,578,3 343,584,1 367,570,4 400,583,1 424,566,2 459,581,6 490,580,1 526,580,1 550,565,5 607,570,1 663,571,8 689,585,8 718,578,7 747,563,0 801,564,1 773,577,1 233,592,8 264,605,7 289,591,9 320,604,1 375,598,5 412,608,8 436,595,3 478,600,4 504,587,2 530,608,0 596,595,3 632,584,1 656,597,2 743,590,1 881,600,1 907,607,0 213,627,3 239,619,7 296,617,8 350,610,1 330,629,9 364,636,4 389,624,4 430,630,3 452,618,3 477,632,2 619,608,1 644,622,1 603,631,0 768,605,1 851,614,0 188,641,2 248,645,9 306,642,8 345,654,6 406,645,5 451,647,2 503,640,1 530,637,1 557,630,1 627,644,0 668,634,3 701,630,9 902,635,0 138,663,0 165,655,0 282,656,7 258,671,6 233,678,6 320,667,5 380,659,3 426,664,0 475,660,6 503,667,1 530,664,1 581,647,0 650,658,3 688,653,8 174,681,0 149,690,1 209,693,6 295,681,5 272,694,2 336,689,5 401,678,3 449,685,1 475,688,6 530,692,3 556,686,1 672,676,3 712,667,1 185,707,5 311,703,8 288,717,9 328,722,4 353,709,2 378,695,0 422,695,1 449,707,0 474,713,5 502,695,0 530,718,2 556,714,1 583,710,1 607,695,2 653,695,5 262,729,5 305,738,6 281,750,4 350,742,4 375,727,1 401,714,2 502,720,0 530,746,3 556,744,8 583,733,1 610,724,0 678,710,3 474,744,0 327,757,3 373,759,5 398,742,4 502,748,1 682,743,5 794,742,1 819,756,0 255,764,7 231,778,8 275,785,0 299,771,0 348,775,0 397,774,8 474,772,8 502,776,0 530,775,4 556,772,7 800,778,1 205,789,0 371,790,5 421,787,0 447,795,0 473,799,0 583,794,8 688,806,0 781,800,1 809,811,0 395,803,9 421,815,4 447,823,0 473,827,8 502,803,5 530,803,6 243,831,0 292,836,0 318,821,0 342,837,0 367,820,3 392,833,9 530,830,5 557,828,5 690,836,0 367,850,1 420,843,0 445,851,0 472,853,0 501,857,5 530,857,7 558,855,8 585,850,1 716,853,1 692,866,0 263,883,0 365,881,0 391,889,0 420,870,0 501,885,1 558,882,0 586,878,6 720,883,1 337,897,6 418,898,0 501,912,4 389,918,0 336,928,5 417,927,2"""

SECTOR_3 = """596,155,5 454,150,0 426,155,5 398,162,5 371,172,0 344,183,0 651,172,0 677,183,2 581,180,1 609,187,4 637,195,2 702,196,6 413,187,5 360,206,0 727,211,0 553,204,5 581,209,4 608,215,6 660,206,3 686,218,3 413,215,3 553,232,6 581,236,7 634,224,5 660,236,5 711,233,9 311,232,2 413,244,7 441,236,8 249,246,5 337,249,6 607,245,5 684,249,8 772,245,1 228,265,8 266,268,2 362,265,2 538,257,0 566,261,8 592,268,5 618,277,8 658,266,6 709,265,6 756,268,8 245,287,3 337,280,6 511,283,2 540,284,9 567,289,0 644,289,8 683,281,8 812,287,0 269,300,1 315,297,8 353,303,3 404,306,1 592,297,5 618,306,7 707,297,8 753,300,9 830,309,0 227,308,0 511,311,2 539,312,7 567,318,8 293,316,9 332,319,9 430,325,3 640,320,8 664,334,8 690,318,9 729,316,6 770,322,5 208,331,1 275,336,6 309,336,1 403,336,5 457,345,0 484,339,5 511,337,1 539,340,5 566,345,4 617,335,7 711,337,0 812,331,5 848,331,0 232,344,6 255,358,1 291,358,8 335,352,1 430,354,8 590,354,0 640,352,8 686,351,2 733,359,3 765,358,8 789,344,9 827,354,3 217,368,3 316,372,6 471,369,1 498,366,0 525,366,1 552,370,4 578,379,6 615,362,6 661,366,8 705,372,3 804,368,5 861,357,2 240,381,1 275,380,2 300,390,5 340,386,0 382,382,6 444,380,0 552,396,4 603,390,5 637,382,9 684,386,8 746,380,8 780,382,8 363,400,6 470,398,5 498,393,1 525,394,0 578,405,6 657,399,6 719,393,3 259,403,1 392,407,2 418,418,3 444,406,2 553,423,3 625,408,9 763,403,5 793,407,2 883,410,0 283,417,4 345,421,3 375,428,1 470,424,3 498,421,5 525,421,4 578,434,5 600,424,7 644,427,7 680,418,6 738,417,9 217,432,0 307,431,6 399,441,2 421,451,2 445,438,1 470,449,2 497,450,7 525,448,3 553,449,4 578,462,3 622,440,7 690,444,5 714,430,3 750,442,7 774,429,8 806,432,6 862,431,0 889,437,3 238,455,8 272,441,3 332,445,9 362,450,3 445,465,1 469,476,1 497,476,2 525,475,3 547,484,3 604,466,6 647,450,6 783,455,8 834,446,0 896,465,3 870,459,1 263,468,2 295,455,9 320,469,6 347,474,6 382,464,2 421,477,2 572,470,3 631,469,6 664,451,9 813,460,5 843,473,0 146,487,0 231,481,8 288,482,0 312,496,6 339,501,7 372,488,5 396,503,1 430,489,2 452,503,2 484,510,3 511,502,2 547,507,3 578,497,5 601,491,4 653,488,8 682,501,5 791,482,7 876,487,0 903,492,0 143,515,0 199,515,5 257,495,5 225,510,6 280,507,5 307,522,8 333,529,7 360,516,5 393,529,1 425,518,3 442,530,1 511,530,3 479,512,3 536,514,3 565,527,3 600,517,4 632,534,7 657,521,5 711,516,8 738,533,7 687,527,7 772,550,0 825,542,6 197,543,9 225,537,8 251,522,9 278,534,9 306,552,6 332,554,8 360,545,5 388,553,2 415,543,1 443,553,3 470,556,5 497,552,5 524,549,5 551,553,5 578,557,5 605,546,5 630,556,5 658,547,8 685,556,5 713,552,7 742,553,7
223,564,8 197,572,9 252,577,0 280,564,9 308,575,3 336,584,6 362,572,5 391,581,2 415,570,1 445,565,1 470,580,5 497,580,2 524,576,5 551,580,5 578,580,5 605,571,5 630,586,4 658,572,8 685,586,5 713,577,6 740,562,6 768,577,8 797,565,7 823,570,5 201,599,9 230,590,7 258,606,6 283,590,8 315,578,6 292,613,9 319,602,6 346,610,4 370,597,2 406,608,4 430,595,5 455,580,1 470,600,5 497,608,1 524,605,5 548,600,2 575,606,5 602,597,5 625,613,5 650,600,9 675,610,9 706,603,8 733,614,8 763,606,6 795,592,7 850,585,0 176,613,6 151,627,1 208,627,9 265,630,7 297,638,5 324,628,3 356,637,3 382,623,3 445,632,1 470,625,4 497,637,3 524,632,3 550,628,4 578,636,5 604,625,4 628,641,5 660,636,9 695,630,9 725,640,5 769,630,3 787,618,1 814,625,4 845,612,0 875,598,2 870,627,0 125,635,6 183,640,0 159,655,0 133,663,0 108,677,1 216,654,0 243,646,7 277,657,9 302,648,7 337,654,3 378,657,2 421,663,0 446,646,4 471,652,3 496,663,2 525,661,5 550,660,3 575,664,4 603,663,4 645,660,8 683,652,5 706,667,5 742,657,6 770,670,7 801,652,4 829,667,1 170,680,1 143,690,2 228,680,4 253,669,8 290,681,8 314,666,6 331,690,3 356,678,4 396,680,0 444,677,5 525,690,3 551,688,2 625,678,8 666,676,0 730,682,3 767,668,7 793,680,6 119,704,8 204,693,0 267,693,8 305,698,8 374,695,8 418,694,5 817,694,0 878,690,0 180,708,5 240,705,2 282,717,5 349,709,7 468,716,1 497,720,0 578,707,1 840,707,1 218,718,4 193,732,0 257,727,1 324,723,7 370,727,5 603,726,7 766,729,8 805,718,1 827,732,6 233,742,1 301,739,8 345,743,8 274,751,3 551,744,1 628,742,8 700,758,8 603,757,0 788,742,1 853,742,0 250,765,1 320,758,4 293,770,1 367,760,0 443,765,0 497,748,2 654,759,9 630,773,2 812,756,0 470,771,2 497,776,2 550,771,4 678,767,6 727,771,4 226,777,5 316,790,5 343,775,6 416,786,7 654,790,6 752,786,1 219,811,6 337,805,8 470,799,5 497,803,3 550,800,0 776,799,2 803,811,0 683,805,8 312,821,8 287,835,2 470,827,0 497,830,1 578,822,0 658,820,3 709,821,5 214,845,4 360,850,5 685,835,5 734,836,3 578,850,0 710,852,3 762,850,5 283,868,0 334,868,5 386,862,0 413,871,0 739,867,5 660,880,0 334,897,0 386,889,1 525,884,8 580,905,0 497,912,0 525,912,1 356,938,0 525,939,7 582,933,2"""

PANELS = [
 ("Sector 7 : Bz+/By-",SECTOR_7,168.3,180,505,540),("Sector 0 : Bz+",SECTOR_0,531.7,180,515,540),("Sector 1 : Bz+/By+",SECTOR_1,895,180,510,540),
 ("Sector 6 : By-",SECTOR_6,168.3,543.3,505,535),("Sector 2 : By+",SECTOR_2,895.3,543.3,511,535),
 ("Sector 5 : Bz-/By-",SECTOR_5,168.3,905.7,505,542),("Sector 4 : Bz-",SECTOR_4,531.7,905.7,515,542),("Sector 3 : Bz-/By+",SECTOR_3,895.3,905.7,511,542)]

xs=[s[0] for s in COLOUR_STOPS]
PAL=[]
for t in np.linspace(0,1,256):
    c=[int(round(np.interp(t,xs,[s[1][k] for s in COLOUR_STOPS]))) for k in range(3)]
    PAL.append("#%02x%02x%02x"%tuple(c))
mapper=LinearColorMapper(palette=PAL,low=0,high=1)

p=figure(width=W,height=H,x_range=Range1d(0,W),y_range=Range1d(H,0),output_backend="svg",toolbar_location=None,min_border=0,outline_line_color=None)
p.axis.visible=False; p.grid.visible=False

def T(x,y,s,size,align="center",color="#111111"):
    p.text([x],[y],text=[s],text_font=value(FONT),text_font_size=f"{size}px",text_align=align,text_baseline="middle",text_color=color)

DEG=4.55; R=30*DEG
for name,raw,cx,cy,zx,zy in PANELS:
    toks=[t.split(",") for t in raw.split()]
    dx=np.array([(int(t[0])-zx)/3 for t in toks],float)
    dy=np.array([(int(t[1])-zy)/3 for t in toks],float)
    v=np.array([LEVELS[int(t[2])] for t in toks],float)
    gx=[];gy=[]
    for k in range(16):
        c=2*k+1; n=int(round(np.pi*c))
        for j in range(n):
            a=2*np.pi*(j+0.5)/n
            x=c*DEG*np.sin(a); y=-c*DEG*np.cos(a)
            if np.min(np.hypot(dx-x,dy-y))>6.5:
                gx.append(x);gy.append(y)
    p.scatter(cx+np.array(gx),cy+np.array(gy),size=1.7,marker="square",color="#3c3cff",line_color=None)
    src=ColumnDataSource(dict(x=cx+dx,y=cy+dy,v=v))
    p.circle("x","y",radius=4.7,source=src,fill_color={"field":"v","transform":mapper},line_color=None)
    p.circle([cx],[cy],radius=R,fill_color=None,line_color="black",line_width=1)
    p.segment([cx,cx-R],[cy-R,cy],[cx,cx+R],[cy+R,cy],line_color="black",line_width=1)
    for m in (46,92):
        p.segment([cx-5,cx-5,cx-m,cx+m],[cy-m,cy+m,cy-5,cy-5],[cx+5,cx+5,cx-m,cx+m],[cy-m,cy+m,cy+5,cy+5],line_color="black",line_width=1)
    T(cx-1,cy-160.5,name.replace("-","\u2212"),19.5)
    T(cx,cy-145,"12",15.5); T(cx-149,cy+1.5,"18",15.5); T(cx+148,cy+1.5,"06",15.5)
    T(cx+16,min(cy+145,1047.5),"00 MLT",16)
    for lab,ox2 in (("80",34),("70",81),("60",125)):
        T(cx+ox2,cy-8,lab,13.5)

for s,y,size in zip(TITLE_LINES,(358,388,418),(33,35.5,32.5)):
    T(530,y,s,size,color="#222222")
T(504,477,"IMF",22); T(566,477,"+Bz",24); T(615,557,"+By",23)
p.segment([532,532],[470,572],[532,633],[572,572],line_color="#444444",line_width=1.5)
T(497,608,"\u03c3",30); T(517,592,"2",20); T(549.5,617,"total",21)
p.image(image=[np.linspace(0,1,256)[None,:]],x=341,y=638,dw=371,dh=21,color_mapper=mapper)
p.quad(left=[341],right=[712],top=[638],bottom=[659],fill_color=None,line_color="black",line_width=1)
for i in range(1,20):
    x=341+371*i/20
    p.segment([x],[638 if i%4==0 else 648],[x],[659],line_color="black",line_width=1)
for t in CBAR_TICKS:
    T(341+371*t,676,f"{t:.1f}",14)

open("out.html","w").write(file_html(p,INLINE))
